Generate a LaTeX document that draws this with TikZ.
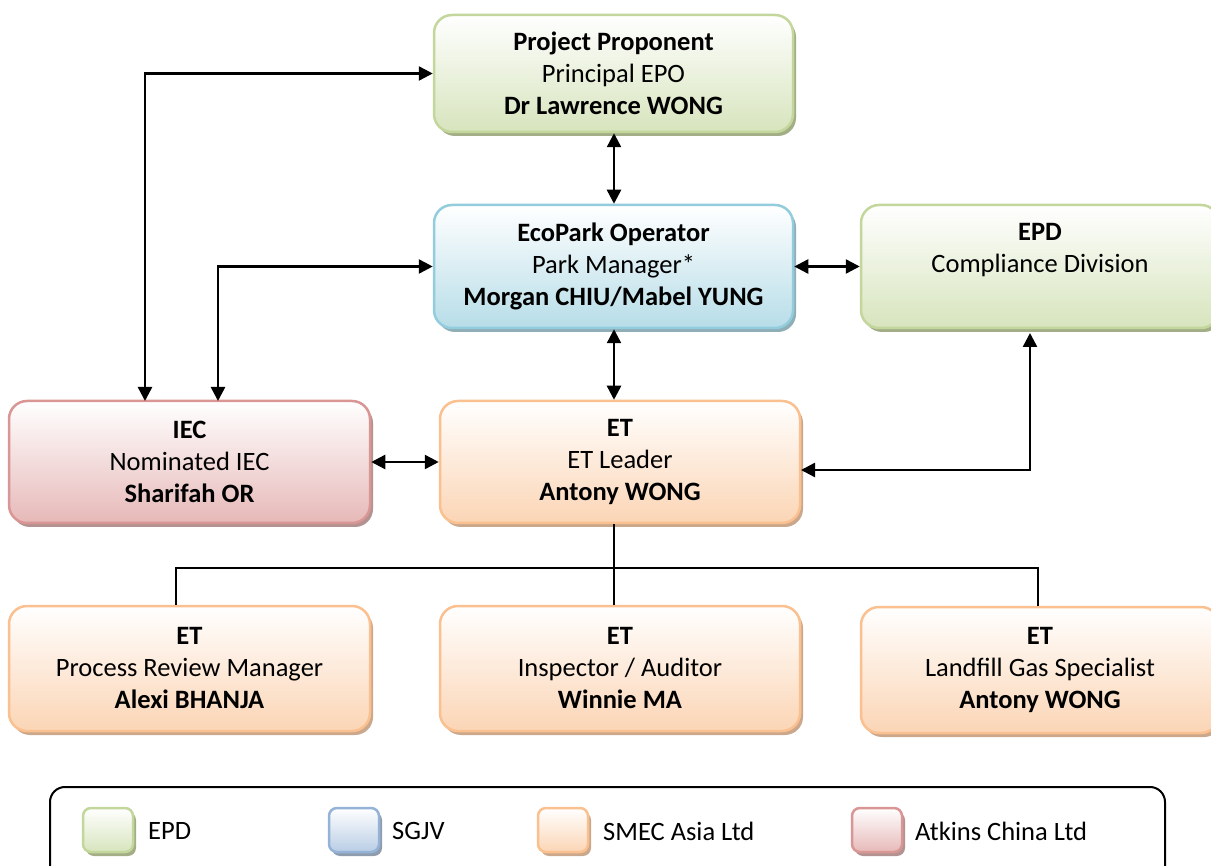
\documentclass[tikz,border=0pt]{standalone}
\usepackage{fontspec}
\setmainfont{Carlito}
\usetikzlibrary{arrows.meta,shadows}
\definecolor{gB}{HTML}{C3D69B}\definecolor{gF}{HTML}{D7E4BD}\definecolor{gS}{HTML}{A3AE86}
\definecolor{bB}{HTML}{93CDDD}\definecolor{bF}{HTML}{B7DDE8}\definecolor{bS}{HTML}{8FAEB6}
\definecolor{sB}{HTML}{95B3D7}\definecolor{sF}{HTML}{B9CDE5}\definecolor{sS}{HTML}{8E9CAE}
\definecolor{oB}{HTML}{FAC08F}\definecolor{oF}{HTML}{FBD5B5}\definecolor{oS}{HTML}{CBA88C}
\definecolor{rB}{HTML}{D99694}\definecolor{rF}{HTML}{E6B9B8}\definecolor{rS}{HTML}{B39392}
\tikzset{
  box/.style={rounded corners=18pt, line width=2.5pt, align=center, inner sep=0pt,
    font=\fontsize{26.5}{32}\selectfont},
  gbox/.style={box, draw=gB, top color=white, bottom color=gF,
    drop shadow={shadow xshift=3pt, shadow yshift=-4pt, fill=gS, opacity=1}},
  bbox/.style={box, draw=bB, top color=white, bottom color=bF,
    drop shadow={shadow xshift=3pt, shadow yshift=-4pt, fill=bS, opacity=1}},
  sbox/.style={box, draw=sB, top color=white, bottom color=sF,
    drop shadow={shadow xshift=3pt, shadow yshift=-4pt, fill=sS, opacity=1}},
  obox/.style={box, draw=oB, top color=white, bottom color=oF,
    drop shadow={shadow xshift=3pt, shadow yshift=-4pt, fill=oS, opacity=1}},
  rbox/.style={box, draw=rB, top color=white, bottom color=rF,
    drop shadow={shadow xshift=3pt, shadow yshift=-4pt, fill=rS, opacity=1}},
  big/.style={minimum width=359pt, minimum height=120pt},
  sq/.style={rounded corners=8pt, minimum width=50pt, minimum height=44pt},
  lbl/.style={anchor=west, inner sep=0pt, font=\fontsize{26.5}{32}\selectfont},
  dbl/.style={line width=2.5pt, {Triangle[length=14pt,width=14pt]}-{Triangle[length=14pt,width=14pt]}},
  tree/.style={line width=2.2pt},
}
\begin{document}
\begin{tikzpicture}[x=1pt,y=-1pt]
\useasboundingbox (0,0) rectangle (1211,866);
% boxes
\node[gbox, big, minimum height=117pt] (pp) at (613.5,73.5)
  {\textbf{Project Proponent}\\Principal EPO\\\textbf{Dr Lawrence WONG}};
\node[bbox, big, minimum height=123pt] (eco) at (613.5,266.5)
  {\textbf{EcoPark Operator}\\Park Manager*\\\textbf{Morgan CHIU/Mabel YUNG}};
\node[gbox, minimum width=358pt, minimum height=123pt] (epd) at (1040,266.5)
  {\textbf{EPD}\\Compliance Division\\\vphantom{Ag}};
\node[rbox, minimum width=361pt, minimum height=122pt] (iec) at (189.5,462)
  {\textbf{IEC}\\Nominated IEC\\\textbf{Sharifah OR}};
\node[obox, minimum width=360pt, minimum height=122pt] (etl) at (620,462)
  {\textbf{ET}\\ET Leader\\\textbf{Antony WONG}};
\node[obox, minimum width=361pt, minimum height=125pt] (pr) at (189.5,668.5)
  {\textbf{ET}\\Process Review Manager\\\textbf{Alexi BHANJA}};
\node[obox, minimum width=360pt, minimum height=125pt] (ins) at (620,668.5)
  {\textbf{ET}\\Inspector / Auditor\\\textbf{Winnie MA}};
\node[obox, minimum width=358pt, minimum height=126pt] (lf) at (1040,670)
  {\textbf{ET}\\Landfill Gas Specialist\\\textbf{Antony WONG}};
% coordinates
\coordinate (ia) at (145,401);
\coordinate (ib) at (218,401);
\coordinate (mx) at (614,0);
\coordinate (er) at (801,470);
\coordinate (eb) at (1030,333);
\coordinate (t1) at (176,568);
\coordinate (t3) at (1038,568);
% connectors
\draw[dbl] (pp.west) -| (ia);
\draw[dbl] (eco.west) -| (ib);
\draw[dbl] (mx |- pp.south) -- (mx |- eco.north);
\draw[dbl] (eco.east) -- (epd.west |- eco.east);
\draw[dbl] (mx |- eco.south) -- (mx |- etl.north);
\draw[dbl] (iec.east) -- (etl.west |- iec.east);
\draw[dbl] (er) -| (eb);
\draw[tree] (mx |- etl.south) -- (mx |- ins.north);
\draw[tree] (t1 |- pr.north) -- (t1) -- (t3) -- (t3 |- lf.north);
% legend
\draw[line width=2pt, rounded corners=15pt] (50,787) rectangle (1165,900);
\node[gbox, sq] (lg1) at (108,830) {};
\node[lbl] (lt1) at (148,831) {EPD};
\node[sbox, sq] (lg2) at (354,830) {};
\node[lbl] (lt2) at (392,831) {SGJV};
\node[obox, sq] (lg3) at (563,830) {};
\node[lbl] (lt3) at (603,831) {SMEC Asia Ltd};
\node[rbox, sq] (lg4) at (877,830) {};
\node[lbl] (lt4) at (915,831) {Atkins China Ltd};
\end{tikzpicture}
\end{document}
